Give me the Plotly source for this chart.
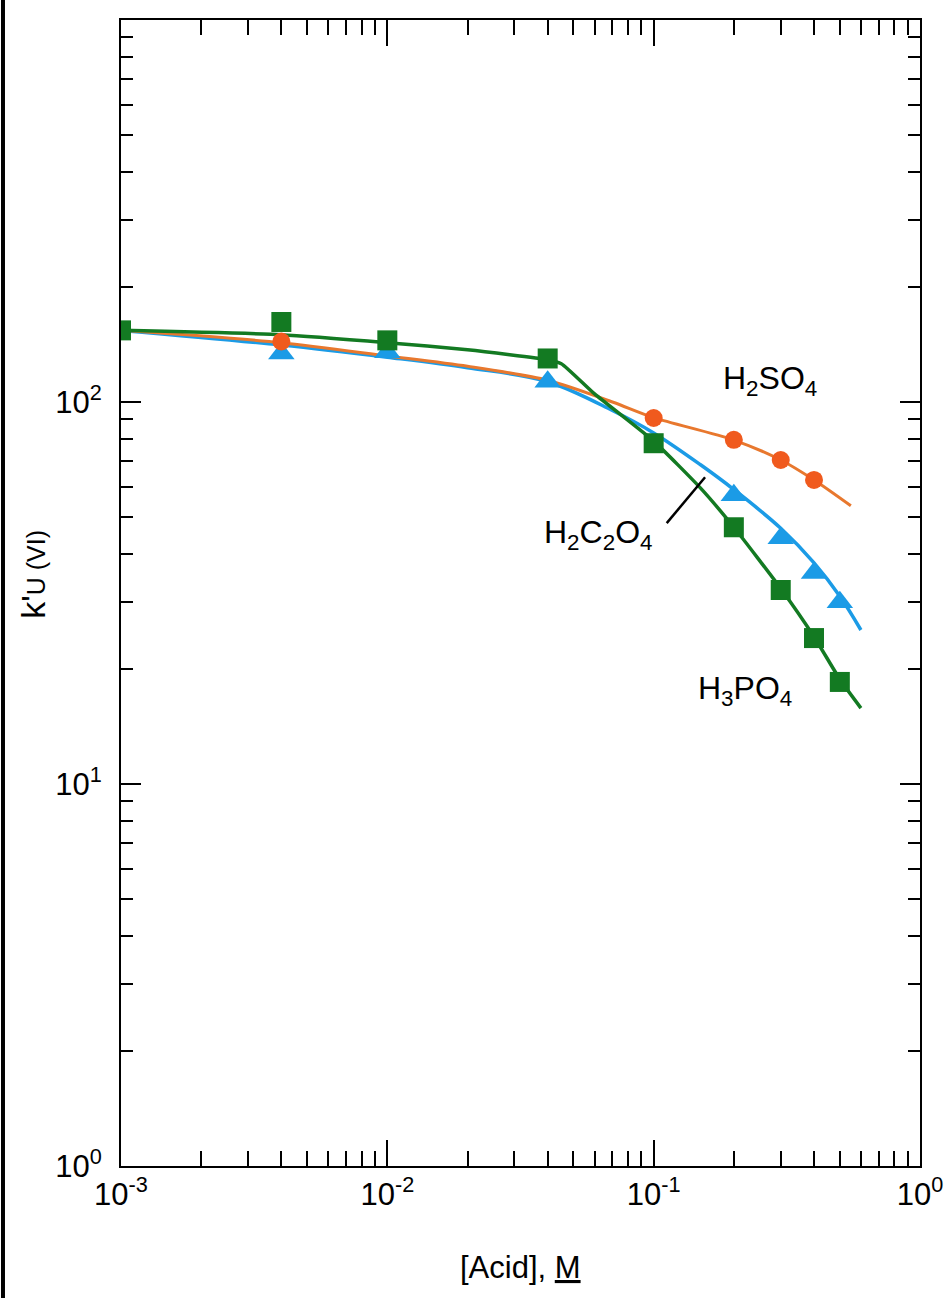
import plotly.graph_objects as go

# ---- data ----
# fitted curves
x_curve_h3po4 = [0.001, 0.004, 0.01, 0.02, 0.04, 0.045, 0.06, 0.1, 0.15, 0.2, 0.3, 0.4, 0.5, 0.6]
y_curve_h3po4 = [154, 150, 143, 137, 129, 126, 105, 79, 59.5, 47, 32.5, 24.3, 18.8, 15.8]

x_curve_h2c2o4 = [0.001, 0.004, 0.01, 0.02, 0.04, 0.07, 0.1, 0.15, 0.2, 0.3, 0.4, 0.5, 0.6]
y_curve_h2c2o4 = [154, 141, 131, 123, 113, 95, 83, 68.5, 59, 46.7, 37.9, 31.0, 25.3]

x_curve_h2so4 = [0.001, 0.004, 0.01, 0.02, 0.04, 0.07, 0.1, 0.2, 0.3, 0.4, 0.55]
y_curve_h2so4 = [154, 143, 132, 124, 114, 100, 91, 79.5, 70.5, 62.5, 53.5]

# measured points
x_pts_h3po4 = [0.001, 0.004, 0.01, 0.04, 0.1, 0.2, 0.3, 0.4, 0.5]
y_pts_h3po4 = [154, 162, 145, 130, 78, 47, 32.2, 24.1, 18.5]

x_pts_h2c2o4 = [0.004, 0.01, 0.04, 0.2, 0.3, 0.4, 0.5]
y_pts_h2c2o4 = [134, 135, 113, 57, 44, 35.7, 29.9]

x_pts_h2so4 = [0.004, 0.1, 0.2, 0.3, 0.4]
y_pts_h2so4 = [144, 90.8, 79.6, 70.5, 62.5]

x_tickvals = [0.001, 0.01, 0.1, 1]
x_ticktext = ["10<sup>-3</sup>", "10<sup>-2</sup>", "10<sup>-1</sup>", "10<sup>0</sup>"]
y_tickvals = [1, 10, 100, 1000]
y_ticktext = ["10<sup>0</sup>", "10<sup>1</sup>", "10<sup>2</sup>", "10<sup>3</sup>"]

x_minor = [m * 10.0 ** e for e in (-3, -2, -1) for m in range(2, 10)]
y_minor = [m * 10.0 ** e for e in (0, 1, 2) for m in range(2, 10)]

GREEN = "#137a22"
BLUE = "#1b9be6"
ORANGE_LINE = "#e8782e"
ORANGE_MK = "#f05a1e"
FONT = "Liberation Sans Narrow, Arial Narrow, Liberation Sans, Arial, sans-serif"

fig = go.Figure()

# lines
fig.add_trace(go.Scatter(x=x_curve_h2c2o4, y=y_curve_h2c2o4, mode="lines",
                         line=dict(color=BLUE, width=3.5, shape="spline", smoothing=1.0),
                         showlegend=False, hoverinfo="skip"))
fig.add_trace(go.Scatter(x=x_curve_h2so4, y=y_curve_h2so4, mode="lines",
                         line=dict(color=ORANGE_LINE, width=3, shape="spline", smoothing=0.8),
                         showlegend=False, hoverinfo="skip"))
fig.add_trace(go.Scatter(x=x_curve_h3po4, y=y_curve_h3po4, mode="lines",
                         line=dict(color=GREEN, width=3.5, shape="spline", smoothing=0.5),
                         showlegend=False, hoverinfo="skip"))

# markers
fig.add_trace(go.Scatter(x=x_pts_h2c2o4, y=y_pts_h2c2o4, mode="markers",
                         marker=dict(symbol="triangle-up", size=23, color=BLUE),
                         showlegend=False))
fig.add_trace(go.Scatter(x=x_pts_h2so4, y=y_pts_h2so4, mode="markers",
                         marker=dict(symbol="circle", size=18, color=ORANGE_MK),
                         showlegend=False))
fig.add_trace(go.Scatter(x=x_pts_h3po4, y=y_pts_h3po4, mode="markers",
                         marker=dict(symbol="square", size=20, color=GREEN),
                         showlegend=False))

axis_common = dict(
    type="log", showline=True, linecolor="black", linewidth=2, mirror="allticks",
    ticks="inside", tickcolor="black", tickwidth=2, showgrid=False, zeroline=False,
    automargin=False,
    tickfont=dict(family=FONT, size=31, color="black"),
)

fig.update_xaxes(**axis_common, range=[-3, 0], tickvals=x_tickvals, ticktext=x_ticktext,
                 ticklen=26,
                 minor=dict(tickvals=x_minor, ticks="inside", ticklen=15, tickwidth=2,
                            tickcolor="black", showgrid=False))
fig.update_yaxes(**axis_common, range=[0, 3], tickvals=y_tickvals, ticktext=y_ticktext,
                 ticklen=20, ticklabelstandoff=11,
                 minor=dict(tickvals=y_minor, ticks="inside", ticklen=12, tickwidth=2,
                            tickcolor="black", showgrid=False))

# axis titles
fig.add_annotation(x=-0.110, y=0.516, xref="paper", yref="paper", textangle=-90,
                   xanchor="center", yanchor="middle",
                   text="k'<span style='font-size:25px'>U (VI)</span>",
                   showarrow=False, font=dict(family=FONT, size=34, color="black"))
fig.add_annotation(x=0.5006, y=-0.089, xref="paper", yref="paper",
                   xanchor="center", yanchor="middle",
                   text="[Acid], <u>M</u>",
                   showarrow=False, font=dict(family=FONT, size=31, color="black"))

ann_font = dict(family=FONT, size=32, color="black")
fig.add_annotation(x=0.812, y=0.685, xref="paper", yref="paper", xanchor="center", yanchor="middle",
                   text="H<sub>2</sub>SO<sub>4</sub>", showarrow=False, font=ann_font)
fig.add_annotation(x=0.597, y=0.551, xref="paper", yref="paper", xanchor="center", yanchor="middle",
                   text="H<sub>2</sub>C<sub>2</sub>O<sub>4</sub>", showarrow=False, font=ann_font)
fig.add_annotation(x=0.781, y=0.415, xref="paper", yref="paper", xanchor="center", yanchor="middle",
                   text="H<sub>3</sub>PO<sub>4</sub>", showarrow=False, font=ann_font)

# leader line for H2C2O4 label
fig.add_shape(type="line", xref="paper", yref="paper", x0=0.683, y0=0.561, x1=0.731, y1=0.601,
              line=dict(color="black", width=2.5))

# left frame line of the page
fig.add_shape(type="line", xref="paper", yref="paper", x0=-0.1477, x1=-0.1477, y0=-0.12, y1=1.02,
              line=dict(color="black", width=4))

fig.update_layout(
    width=951, height=1298,
    margin=dict(l=121, r=31, t=20, b=132),
    paper_bgcolor="white", plot_bgcolor="white",
    font=dict(family=FONT, color="black"),
)

fig.write_html("out.html", config={"displayModeBar": False},
               post_script="document.body.style.margin='0';")
